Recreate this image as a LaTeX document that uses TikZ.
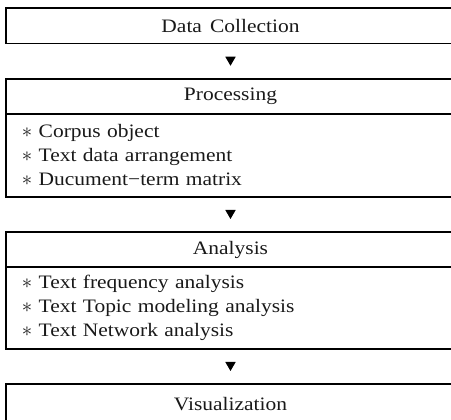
\documentclass[tikz,border=0pt]{standalone}
\usepackage{fontspec}
\setmainfont{Liberation Serif}[FakeStretch=1.13,WordSpace=1.5]
\usetikzlibrary{shapes.geometric}
\newcommand\bul{{\fontsize{22}{24}\selectfont$\ast$}}
\begin{document}
\begin{tikzpicture}[x=1pt,y=1pt]
            \tikzstyle{every node}+=[inner sep=0pt, font=\fontsize{19}{24}\selectfont, text=black!90]
            \tikzstyle{box}=[draw, line width=1.2pt, minimum width=449pt, minimum height=35pt]
            \tikzstyle{list}=[box, align=left, text width=417pt, inner xsep=16pt]
            \tikzstyle{tri}=[fill=black, regular polygon, regular polygon sides=3, shape border rotate=180, minimum size=12pt, yshift=1.5pt]
            \path [use as bounding box, clip] (0,0) rectangle (451,-420);
            \node [box, minimum height=35.5pt] (dc) at (230.5,-25.75) {Data Collection};
            \node [box] (proc) at (230.5,-96.5) {Processing};
            \node [list, minimum height=83pt] (procl) at (230.5,-155.5) {\bul\ Corpus object\\\bul\ Text data arrangement\\\bul\ Ducument−term matrix};
            \node [box] (ana) at (230.5,-249.5) {Analysis};
            \node [list, minimum height=82pt] (anal) at (230.5,-308) {\bul\ Text frequency analysis\\\bul\ Text Topic modeling analysis\\\bul\ Text Network analysis};
            \node [box, minimum height=40pt] (vis) at (230.5,-404) {Visualization};
            \path (dc.south) -- (proc.north) node [midway, tri] (t1) {};
            \path (procl.south) -- (ana.north) node [midway, tri] (t2) {};
            \path (anal.south) -- (vis.north) node [midway, tri] (t3) {};
        \end{tikzpicture}
\end{document}
